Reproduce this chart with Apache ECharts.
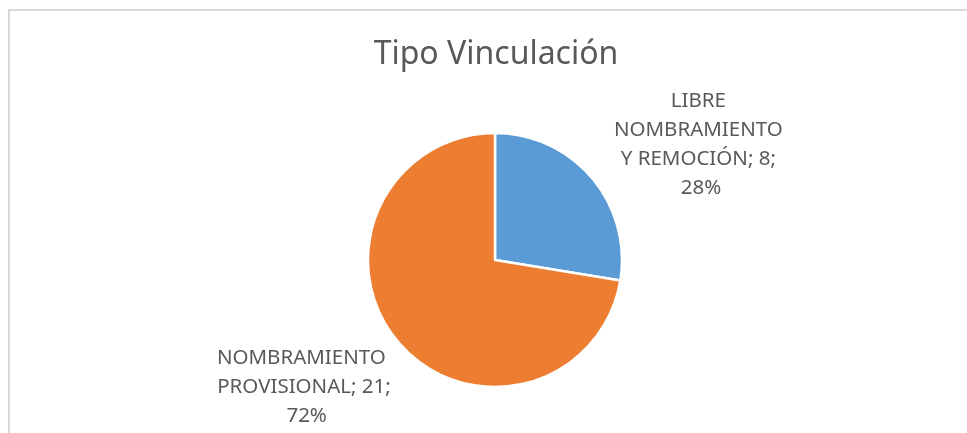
<!DOCTYPE html>
<html>
<head>
<meta charset="utf-8">
<script src="https://cdn.jsdelivr.net/npm/echarts@6/dist/echarts.min.js"></script>
<style>
  html, body { margin: 0; padding: 0; background: #fff; overflow: hidden; }
  #chart { position: absolute; left: 0; top: 0; width: 967px; height: 433px; }
  .frame {
    position: absolute; left: 8px; top: 9px; width: 1200px; height: 800px;
    border: 2px solid #d9d9d9; pointer-events: none;
  }
</style>
</head>
<body>
<div id="chart"></div>
<div class="frame"></div>
<script>
const categories = ['LIBRE NOMBRAMIENTO Y REMOCIÓN', 'NOMBRAMIENTO PROVISIONAL']
const values = [8, 21]
const colors = ['#5B9BD5', '#ED7D31']

const textColor = '#595959'
const cx = 495
const cy = 260
// label centres, relative to pie centre
const labelOffsets = [[206, -115], [-191, 127]]

const chart = echarts.init(document.getElementById('chart'), undefined, { renderer: 'canvas' })

chart.setOption({
  backgroundColor: 'transparent',
  animation: false,
  title: {
    text: 'Tipo Vinculación',
    left: cx - 4,
    textAlign: 'center',
    top: 34,
    textStyle: { color: textColor, fontSize: 32, fontWeight: 'normal', fontFamily: 'Noto Sans' },
  },
  series: [
    {
      type: 'pie',
      center: [cx, cy],
      radius: 127,
      startAngle: 90,
      clockwise: true,
      itemStyle: { borderColor: '#fff', borderWidth: 2.5 },
      labelLine: { show: false },
      label: {
        show: true,
        position: 'outside',
        formatter: (p) => `${p.name}; ${p.value}; ${Math.round(p.percent)}%`,
        color: textColor,
        fontFamily: 'Noto Sans',
        fontSize: 20.5,
        lineHeight: 29,
        width: 178,
        overflow: 'break',
        align: 'center',
      },
      labelLayout: (params) => {
        const off = labelOffsets[params.dataIndex]
        return { x: cx + off[0], y: cy + off[1], align: 'center', verticalAlign: 'middle' }
      },
      data: categories.map((name, i) => ({
        name,
        value: values[i],
        itemStyle: { color: colors[i] },
      })),
    },
  ],
})
</script>
</body>
</html>
